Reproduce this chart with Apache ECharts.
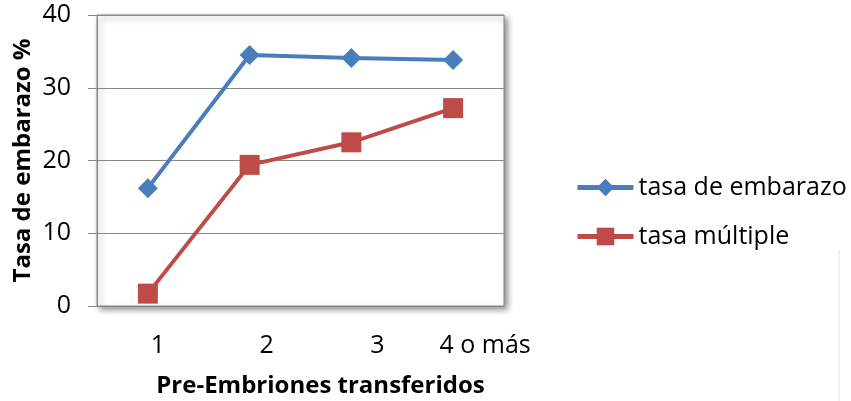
<!DOCTYPE html>
<html>
<head>
<meta charset="utf-8">
<script src="https://cdn.jsdelivr.net/npm/echarts@6/dist/echarts.min.js"></script>
<style>
  html, body { margin: 0; padding: 0; background: #fff; }
  #main { width: 851px; height: 401px; }
</style>
</head>
<body>
<div id="main"></div>
<script>
var categories = ['1', '2', '3', '4 o más'];
var tasaEmbarazo = [16.2, 34.5, 34.1, 33.8];
var tasaMultiple = [1.7, 19.4, 22.5, 27.2];
var yTicks = [0, 10, 20, 30, 40];

// the original tick labels sit a bit right of their points
var labelShift = [20, 34, 52, 64];

var fontFamily = 'Open Sans, Liberation Sans, sans-serif';

var myChart = echarts.init(document.getElementById('main'));
var option;

option = {
    animation: false,
    backgroundColor: '#fff',
    textStyle: { fontFamily: fontFamily },
    grid: {
        left: 97,
        right: 347,
        top: 15,
        bottom: 95,
        outerBoundsMode: 'none',
        containLabel: false,
        show: true,
        backgroundColor: '#fff',
        borderColor: '#888',
        borderWidth: 1,
        shadowColor: 'rgba(0,0,0,0.45)',
        shadowBlur: 6,
        shadowOffsetX: 3,
        shadowOffsetY: 3
    },
    legend: {
        orient: 'vertical',
        left: 570,
        top: 170,
        itemWidth: 56,
        itemHeight: 22,
        itemGap: 24,
        lineStyle: { width: 5 },
        textStyle: { fontSize: 25, color: '#000', fontFamily: fontFamily },
        data: ['tasa de embarazo', 'tasa múltiple']
    },
    xAxis: {
        type: 'category',
        data: categories.map(function (c, i) {
            return { value: c, textStyle: { padding: [0, 0, 0, labelShift[i]] } };
        }),
        boundaryGap: true,
        name: 'Pre-Embriones transferidos',
        nameLocation: 'middle',
        nameGap: 68,
        nameTextStyle: { fontSize: 24, fontWeight: 'bold', color: '#000', padding: [0, 0, 0, 40] },
        axisLine: { show: true, lineStyle: { color: '#888', width: 1 } },
        axisTick: { show: false },
        axisLabel: { fontSize: 25, color: '#000', margin: 27, interval: 0 }
    },
    yAxis: {
        type: 'value',
        min: yTicks[0],
        max: yTicks[yTicks.length - 1],
        interval: 10,
        name: 'Tasa de embarazo %',
        nameLocation: 'middle',
        nameGap: 62,
        nameTextStyle: { fontSize: 24, fontWeight: 'bold', color: '#000' },
        axisLine: { show: true, lineStyle: { color: '#888', width: 1 } },
        axisTick: { show: true, inside: false, length: 9, lineStyle: { color: '#888' } },
        axisLabel: { fontSize: 25, color: '#000', margin: 26 },
        splitLine: { show: true, lineStyle: { color: '#888', width: 1 } }
    },
    series: [
        {
            name: 'tasa de embarazo',
            type: 'line',
            data: tasaEmbarazo,
            symbol: 'diamond',
            symbolSize: 20,
            lineStyle: { color: '#4A7EBB', width: 4 },
            itemStyle: { color: '#4A7EBB' }
        },
        {
            name: 'tasa múltiple',
            type: 'line',
            data: tasaMultiple,
            symbol: 'rect',
            symbolSize: 20,
            lineStyle: { color: '#BE4B48', width: 4 },
            itemStyle: { color: '#BE4B48' }
        }
    ],
    graphic: [
        {
            type: 'line',
            shape: { x1: 839, y1: 250, x2: 839, y2: 401 },
            style: { stroke: '#e4e4e4', lineWidth: 1 }
        }
    ]
};

option && myChart.setOption(option);
</script>
</body>
</html>
